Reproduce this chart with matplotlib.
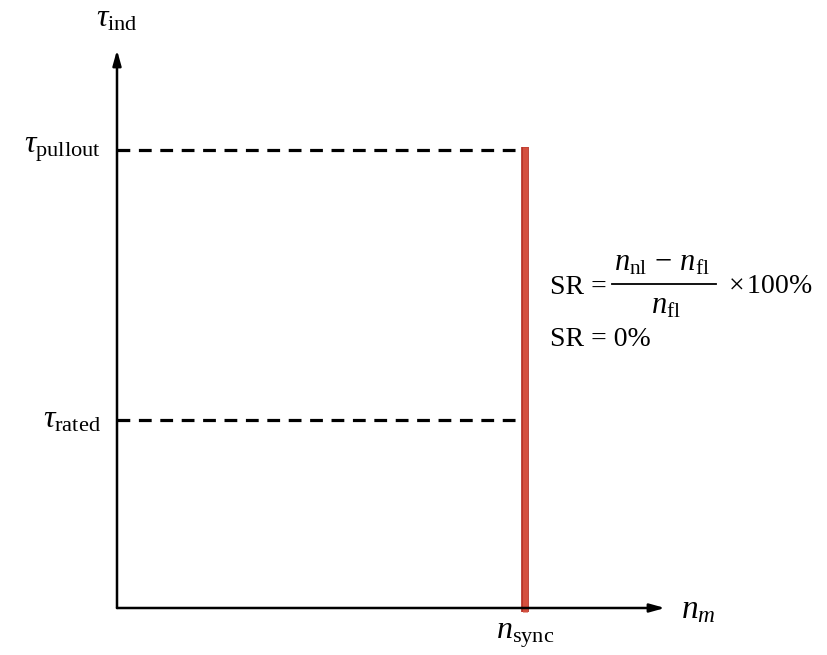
import matplotlib
matplotlib.use('Agg')
import matplotlib.pyplot as plt

# normalised units: speed in n_sync, torque in tau_pullout
n_sync = 1.0
tau_pullout = 1.0
tau_rated = 0.41
x_max = 1.343
y_max = 1.218

y_labels = [r'$\tau_{\rm pullout}$', r'$\tau_{\rm rated}$']
y_values = [tau_pullout, tau_rated]

plt.rcParams['mathtext.fontset'] = 'custom'
plt.rcParams['mathtext.rm'] = 'Liberation Serif'
plt.rcParams['mathtext.it'] = 'Liberation Serif:italic'
plt.rcParams['mathtext.bf'] = 'Liberation Serif:bold'
plt.rcParams['font.family'] = 'Liberation Serif'

fig = plt.figure(figsize=(8.28, 6.55), dpi=100)
ax = fig.add_axes([117 / 828, 47 / 655, 548 / 828, 558 / 655])
ax.set_xlim(0, x_max)
ax.set_ylim(0, y_max)
ax.axis('off')

arrow = dict(arrowstyle='-|>,head_length=0.9,head_width=0.25', color='black', lw=1.8,
             shrinkA=0, shrinkB=0)
ax.annotate('', xy=(x_max, 0), xytext=(0, 0), arrowprops=arrow, annotation_clip=False)
ax.annotate('', xy=(0, y_max), xytext=(0, 0), arrowprops=arrow, annotation_clip=False)

# dashed torque levels and their labels
for lab, val in zip(y_labels, y_values):
    ax.plot([0, n_sync - 0.01], [val, val], color='black', lw=2.3, ls=(0, (4, 2.7)),
            solid_capstyle='butt', clip_on=False)
    ax.text(-0.04, val, lab, fontsize=23, ha='right', va='center', clip_on=False)

# torque-speed characteristic of the synchronous motor
ax.plot([n_sync, n_sync], [-0.008, tau_pullout + 0.006], color='#b8362a', lw=5.6,
        solid_capstyle='butt', clip_on=False)
ax.plot([n_sync, n_sync], [-0.008, tau_pullout + 0.006], color='#d4503f', lw=3.6,
        solid_capstyle='butt', clip_on=False)

ax.text(0, y_max + 0.035, r'$\tau_{\rm ind}$', fontsize=23, ha='center', va='bottom',
        clip_on=False)
ax.text(x_max + 0.04, -0.005, r'$n_m$', fontsize=24, ha='left', va='center', clip_on=False)
ax.text(n_sync, -0.028, r'$n_{\rm sync}$', fontsize=23, ha='center', va='top', clip_on=False)

# speed regulation formula
ax.text(1.061, 0.700, 'SR =', fontsize=20, ha='left', va='center', clip_on=False)
ax.text(1.336, 0.752, r'$n_{\rm nl}\,-\,n_{\rm fl}$', fontsize=22, ha='center', va='center',
        clip_on=False)
ax.plot([1.213, 1.468], [0.707, 0.707], color='black', lw=1.3, clip_on=False)
ax.text(1.346, 0.660, r'$n_{\rm fl}$', fontsize=22, ha='center', va='center', clip_on=False)
ax.text(1.498, 0.702, r'$\times\,$100%', fontsize=20, ha='left', va='center', clip_on=False)
ax.text(1.061, 0.585, 'SR = 0%', fontsize=20, ha='left', va='center', clip_on=False)

plt.savefig('out.png', dpi=100, facecolor='white')
